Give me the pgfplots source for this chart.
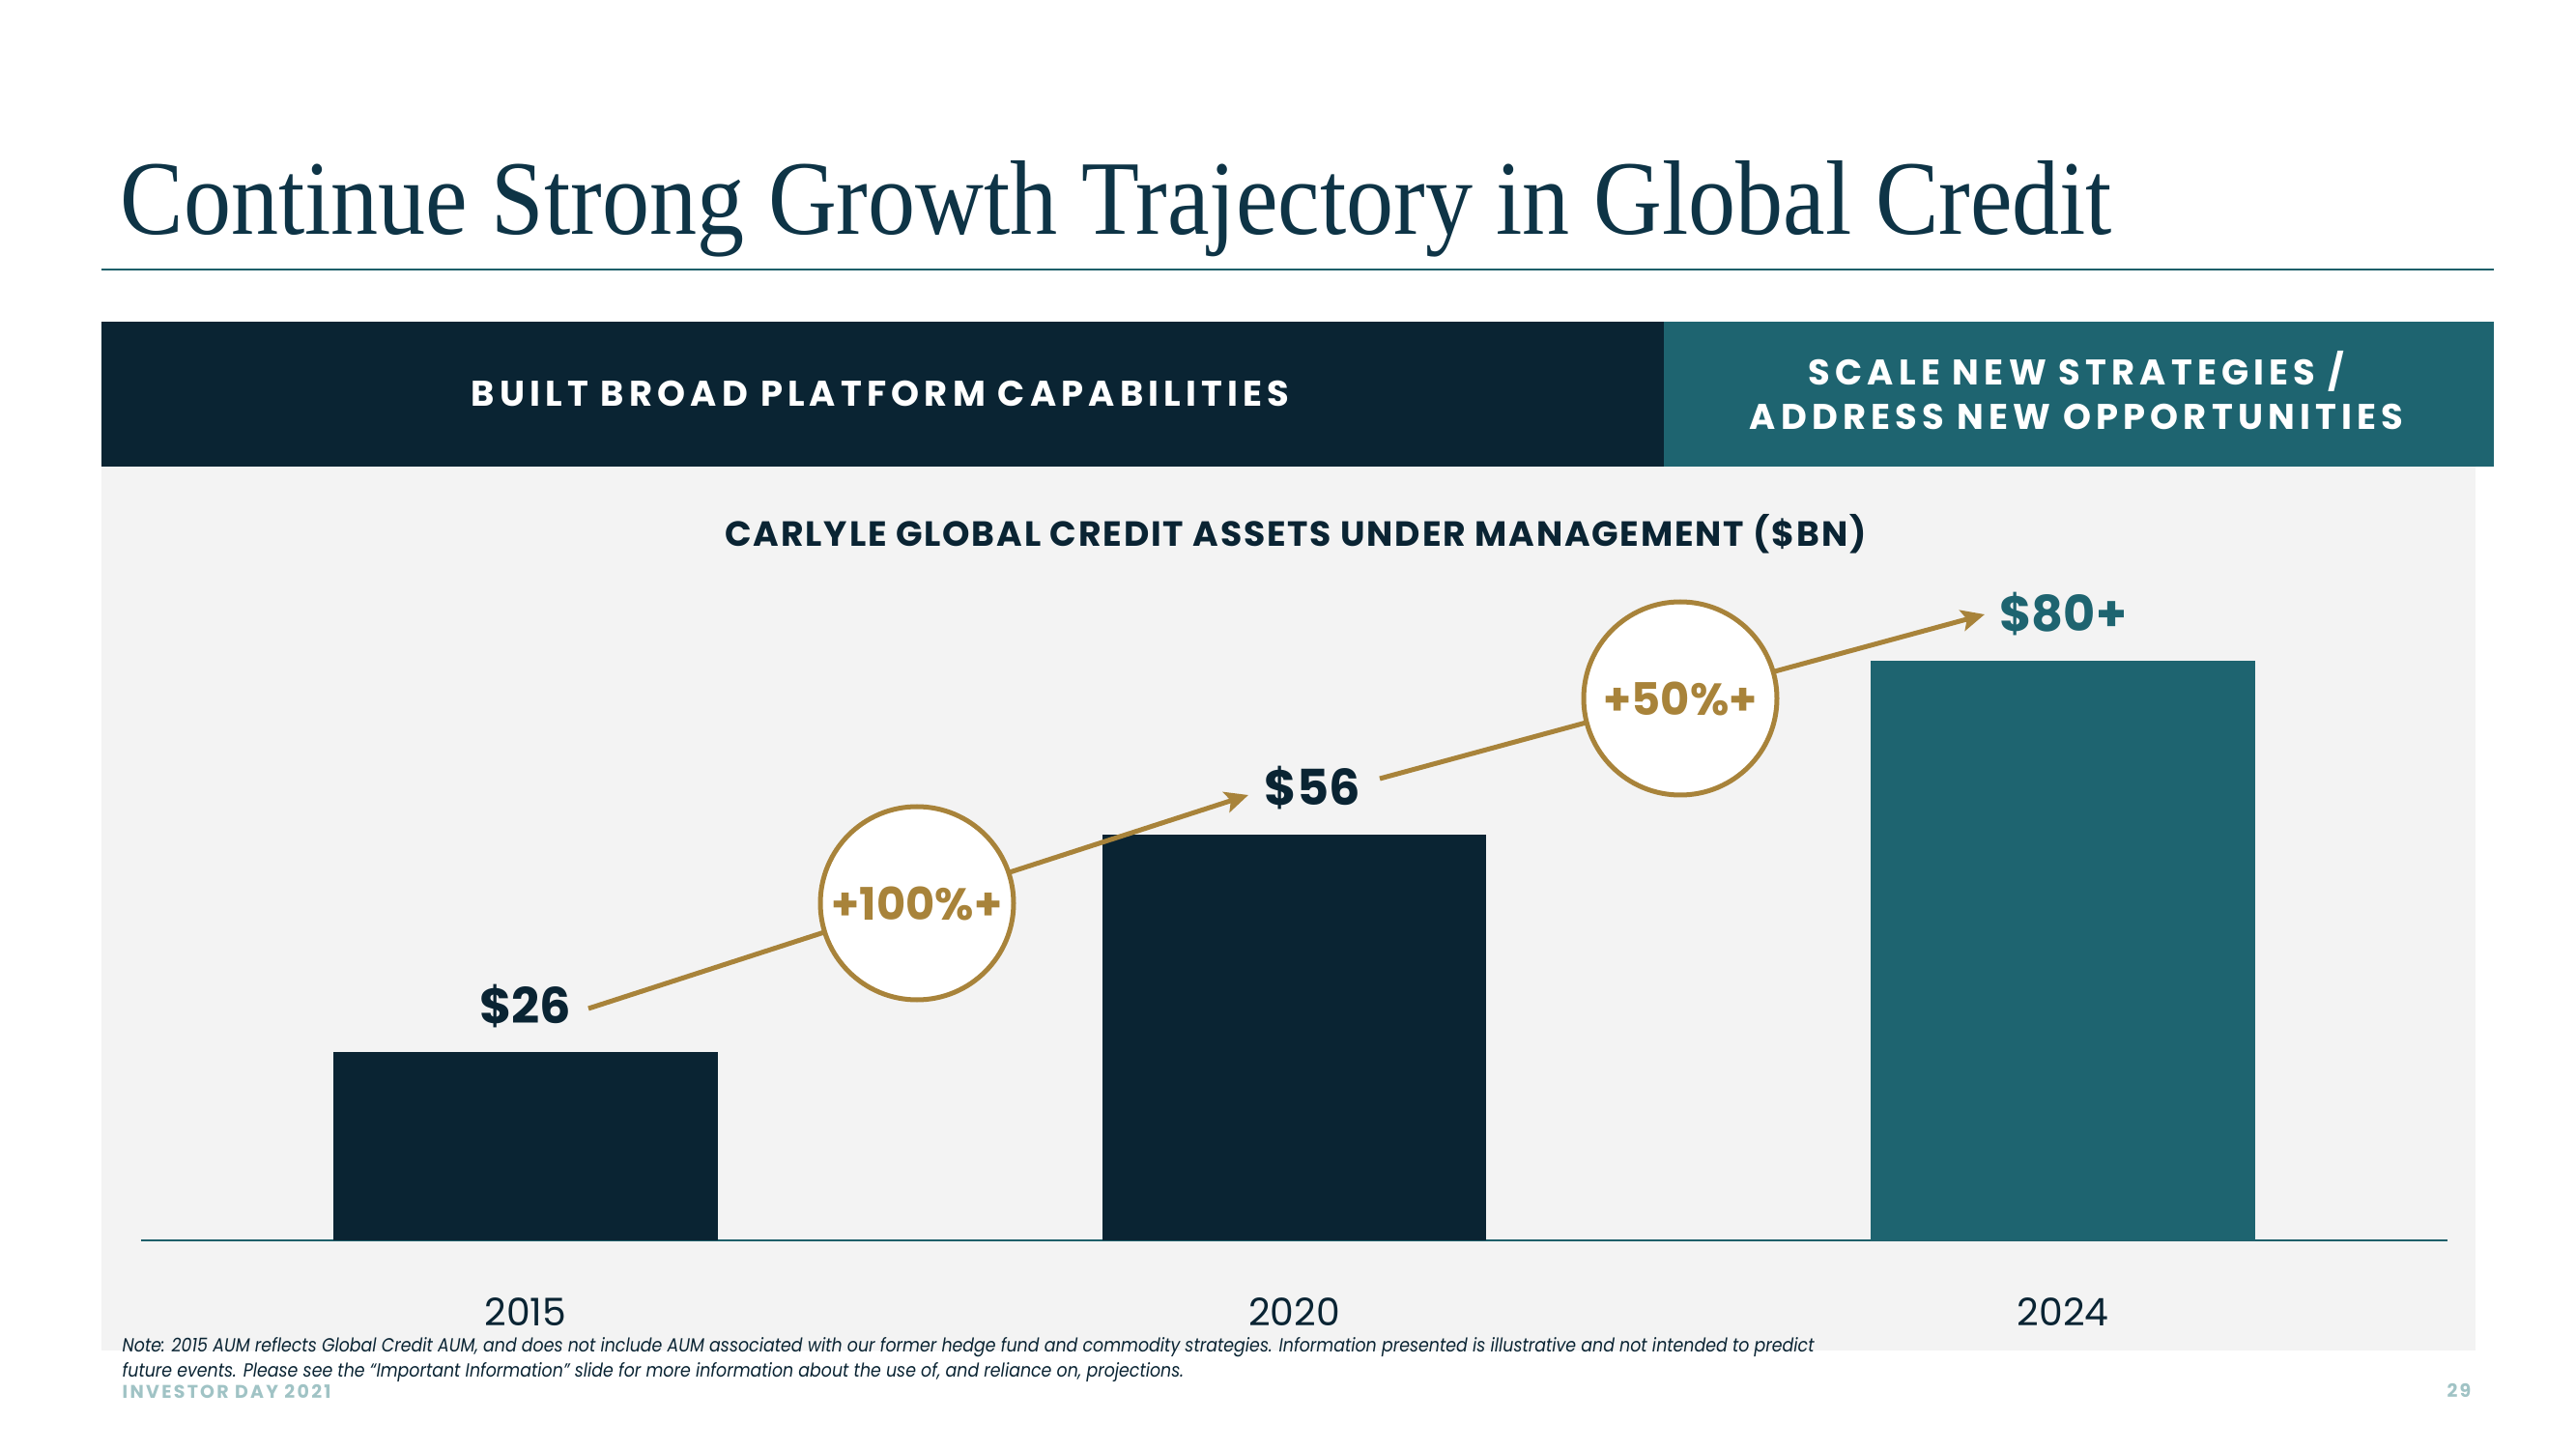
\documentclass[border=0pt]{standalone}
\usepackage{fontspec}
\usepackage{pgfplots}
\pgfplotsset{compat=1.18}
\usetikzlibrary{arrows.meta}
\setmainfont{Poppins}
\newfontfamily\titlefont{Liberation Serif}
\newfontfamily\spacedfont[LetterSpace=14]{Poppins}
\newfontfamily\subfont[LetterSpace=5]{Poppins}
\newfontfamily\footfont[LetterSpace=12]{Poppins}
\definecolor{navy}{RGB}{10,36,51}
\definecolor{tealc}{RGB}{30,100,112}
\definecolor{gold}{RGB}{168,131,58}
\definecolor{panel}{RGB}{243,243,243}
\definecolor{titlec}{RGB}{14,52,70}
\definecolor{rulec}{RGB}{30,95,106}
\definecolor{footc}{RGB}{160,195,197}
\begin{document}
\begin{tikzpicture}[x=1cm,y=1cm]
% page
\fill[white] (0,0) rectangle (26.66,15);
% title
\node[anchor=base west, inner sep=0, text=titlec] at (1.24,12.57)
  {\resizebox{20.61cm}{0.76cm}{\titlefont Continue Strong Growth Trajectory in Global Credit}};
\draw[rulec, line width=0.025cm] (1.05,12.21) -- (25.81,12.21);
% header bars
\fill[navy] (1.05,10.17) rectangle (17.22,11.67);
\fill[tealc] (17.22,10.17) rectangle (25.81,11.67);
\fill[panel] (1.05,1.02) rectangle (25.62,10.17);
\node[text=white, font=\spacedfont\fontsize{10.5}{12.8}\selectfont\bfseries] at (9.11,10.93)
  {BUILT BROAD PLATFORM CAPABILITIES};
\node[text=white, align=center, font=\spacedfont\fontsize{10.5}{13.0}\selectfont\bfseries] at (21.49,10.96)
  {SCALE NEW STRATEGIES /\\ADDRESS NEW OPPORTUNITIES};
\node[text=navy, font=\subfont\fontsize{10.3}{12}\selectfont\bfseries] at (13.41,9.47)
  {CARLYLE GLOBAL CREDIT ASSETS UNDER MANAGEMENT (\$BN)};
% chart
\begin{axis}[
  at={(1.46cm,2.16cm)}, anchor=south west,
  scale only axis, width=23.87cm, height=7.5cm,
  xmin=-0.5, xmax=2.5, ymin=0, ymax=100,
  axis x line*=bottom, axis y line=none,
  x axis line style={rulec, line width=0.025cm},
  xtick={0,1,2}, xticklabels={2015,2020,2024},
  major tick length=0pt,
  xticklabel style={font=\fontsize{11.2}{13}\selectfont, text=navy, anchor=base, yshift=-0.88cm},
  clip=false,
  bar width=0.5, 
  nodes near coords, point meta=explicit symbolic,
  every node near coord/.append style={anchor=base, yshift=0.30cm, font=\fontsize{14.5}{17}\selectfont\bfseries},
]
\addplot[ybar, bar shift=0, fill=navy, draw=none, every node near coord/.append style={text=navy}]
  coordinates {(0,26) [\$26]};
\addplot[ybar, bar shift=0, fill=navy, draw=none, every node near coord/.append style={text=navy, xshift=0.19cm}]
  coordinates {(1,56) [\$56]};
\addplot[ybar, bar shift=0, fill=tealc, draw=none, every node near coord/.append style={text=tealc}]
  coordinates {(2,80) [\$80+]};
\end{axis}
% growth arrows
\draw[gold, line width=0.05cm, -{Stealth[length=0.24cm, width=0.22cm, inset=0.05cm]}] (6.09,4.56) -- (12.92,6.77);
\draw[gold, line width=0.05cm, -{Stealth[length=0.24cm, width=0.22cm, inset=0.05cm]}] (14.28,6.94) -- (20.54,8.64);
\draw[gold, line width=0.05cm, fill=white] (9.49,5.65) circle (1.0cm);
\draw[gold, line width=0.05cm, fill=white] (17.39,7.77) circle (1.0cm);
\node[text=gold, font=\fontsize{13.2}{15}\selectfont\bfseries] at (9.49,5.65) {+100\%+};
\node[text=gold, font=\fontsize{13.2}{15}\selectfont\bfseries] at (17.39,7.77) {+50\%+};
% footnote
\node[anchor=base west, inner sep=0, text=navy, font=\fontsize{5.6}{7}\selectfont\itshape] at (1.26,1.01)
  {\scalebox{0.883}[1]{Note: 2015 AUM reflects Global Credit AUM, and does not include AUM associated with our former hedge fund and commodity strategies. Information presented is illustrative and not intended to predict}};
\node[anchor=base west, inner sep=0, text=navy, font=\fontsize{5.6}{7}\selectfont\itshape] at (1.26,0.75)
  {\scalebox{0.883}[1]{future events. Please see the “Important Information” slide for more information about the use of, and reliance on, projections.}};
\node[anchor=base west, inner sep=0, text=footc, font=\footfont\fontsize{5.4}{7}\selectfont\bfseries] at (1.26,0.53)
  {INVESTOR DAY 2021};
\node[anchor=base east, inner sep=0, text=footc, font=\footfont\fontsize{5.4}{7}\selectfont\bfseries] at (25.58,0.54)
  {29};
\end{tikzpicture}
\end{document}
